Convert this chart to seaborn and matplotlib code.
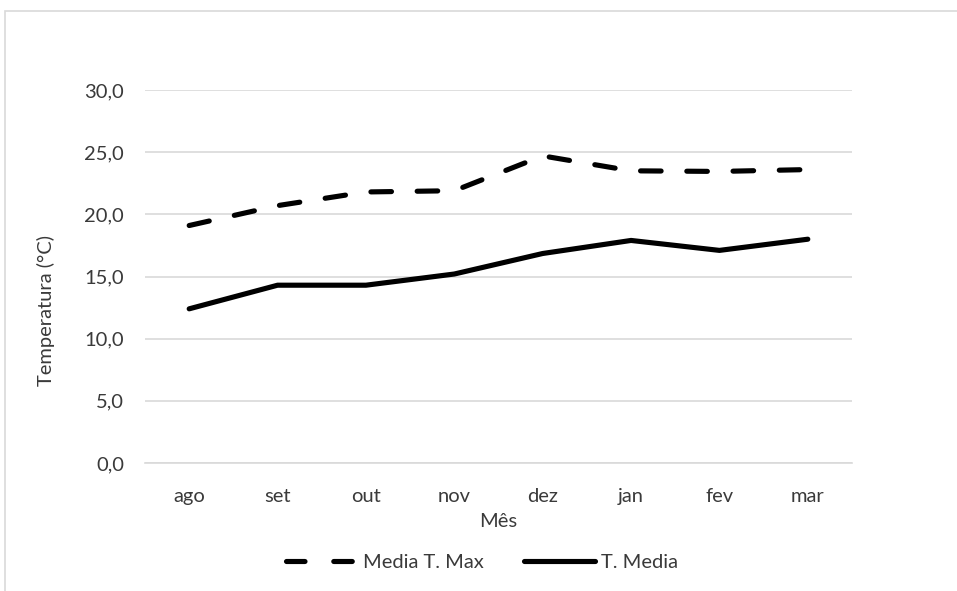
import matplotlib
matplotlib.use("Agg")
import matplotlib.pyplot as plt
from matplotlib.patches import Rectangle
from matplotlib.lines import Line2D
from matplotlib.ticker import FuncFormatter
import pandas as pd
import seaborn as sns

meses = ["ago", "set", "out", "nov", "dez", "jan", "fev", "mar"]
media_t_max = [19.1, 20.7, 21.8, 21.9, 24.7, 23.5, 23.45, 23.6]
t_media = [12.4, 14.3, 14.3, 15.2, 16.85, 17.9, 17.1, 18.0]
series_names = ["Media T. Max", "T. Media"]

df = pd.DataFrame({
    "Mês": meses * 2,
    "x": list(range(len(meses))) * 2,
    "Temperatura": media_t_max + t_media,
    "Série": [series_names[0]] * len(meses) + [series_names[1]] * len(meses),
})

sns.set_theme(style="white")
plt.rcParams["font.family"] = ["Lato", "DejaVu Sans"]

TXT = "#3a3a3a"
GRID = "#d9d9d9"
LW = 3.7

fig = plt.figure(figsize=(9.57, 5.91), dpi=100)
W, H = 957, 591
AX_L, AX_R, AX_T, AX_B = 145, 852, 90, 463
ax = fig.add_axes([AX_L / W, 1 - AX_B / H, (AX_R - AX_L) / W, (AX_B - AX_T) / H])

# outer chart frame
fig.patches.append(Rectangle((5 / W, -0.1), 1.2, (1 - 11 / H) + 0.1,
                             transform=fig.transFigure, fill=False,
                             edgecolor=GRID, linewidth=1.2))

sns.lineplot(data=df, x="x", y="Temperatura", hue="Série", style="Série",
             palette=["black", "black"],
             dashes={series_names[0]: (4.0, 5.0), series_names[1]: ""},
             linewidth=LW, ax=ax, legend=False, sort=False)
for line in ax.lines:
    line.set_solid_capstyle("round")
    line.set_dash_capstyle("round")
    line.set_solid_joinstyle("round")

ax.set_xlim(-0.5, len(meses) - 0.5)
ax.set_ylim(0, 30)
ax.set_yticks([0, 5, 10, 15, 20, 25, 30])
ax.yaxis.set_major_formatter(FuncFormatter(lambda v, p: f"{v:.1f}".replace(".", ",")))
ax.set_xticks(range(len(meses)))
ax.set_xticklabels(meses)
ax.grid(axis="y", color=GRID, linewidth=1.2)
ax.set_axisbelow(True)
for s in ["top", "right", "left"]:
    ax.spines[s].set_visible(False)
ax.spines["bottom"].set_color(GRID)
ax.spines["bottom"].set_linewidth(1.2)
ax.tick_params(axis="y", length=0, labelsize=14.5, colors=TXT, pad=15)
ax.tick_params(axis="x", length=0, labelsize=14.5, colors=TXT, pad=18)
ax.set_xlabel("Mês", fontsize=14.5, color=TXT, labelpad=6)
ax.set_ylabel("Temperatura (°C)", fontsize=14.5, color=TXT)
ax.yaxis.set_label_coords((55 - AX_L) / (AX_R - AX_L), (AX_B - 310) / (AX_B - AX_T))

handles = [
    Line2D([0], [0], color="black", linewidth=LW, linestyle=(0, (3.6, 5.6)),
           dash_capstyle="round"),
    Line2D([0], [0], color="black", linewidth=LW, solid_capstyle="round"),
]
fig.legend(handles, series_names, loc="center", bbox_to_anchor=(482 / W, 1 - 562 / H),
           ncol=2, frameon=False, fontsize=14.5, handlelength=3.5, handletextpad=0.3,
           columnspacing=2.0, labelcolor=TXT)

fig.savefig("out.png", dpi=100, facecolor="white")
